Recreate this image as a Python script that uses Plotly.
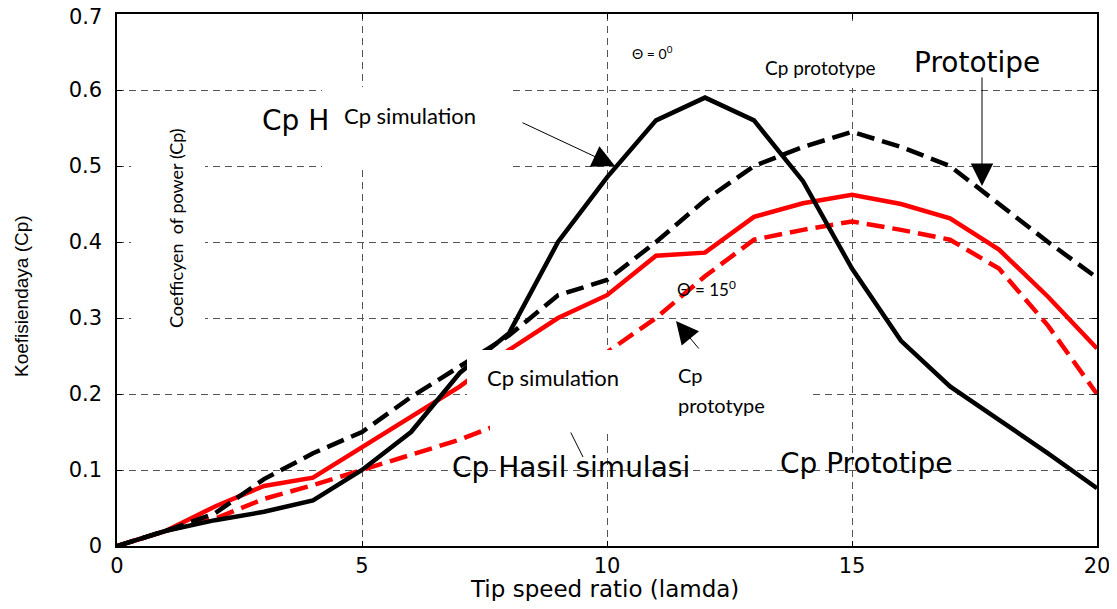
import plotly.graph_objects as go

tsr = list(range(0, 21))
cp_sim_0 = [0, 0.02, 0.034, 0.045, 0.06, 0.10, 0.15, 0.228, 0.28, 0.40, 0.485, 0.56, 0.59, 0.56, 0.48, 0.365, 0.27, 0.21, 0.166, 0.122, 0.076]
cp_proto_0 = [0, 0.02, 0.043, 0.088, 0.122, 0.15, 0.196, 0.236, 0.277, 0.33, 0.35, 0.40, 0.455, 0.50, 0.525, 0.545, 0.525, 0.50, 0.45, 0.40, 0.353]
cp_sim_15 = [0, 0.02, 0.052, 0.079, 0.09, 0.13, 0.17, 0.21, 0.258, 0.30, 0.33, 0.382, 0.386, 0.433, 0.451, 0.462, 0.45, 0.431, 0.39, 0.328, 0.26]
cp_proto_15 = [0, 0.02, 0.036, 0.062, 0.08, 0.10, 0.12, 0.14, 0.165, 0.20, 0.255, 0.30, 0.355, 0.403, 0.416, 0.427, 0.416, 0.403, 0.365, 0.29, 0.20]

x_ticks = [0, 5, 10, 15, 20]
y_ticks = [0, 0.1, 0.2, 0.3, 0.4, 0.5, 0.6, 0.7]
y_tick_text = ["0", "0.1", "0.2", "0.3", "0.4", "0.5", "0.6", "0.7"]

# pixel -> data helpers for placing annotations / overlay boxes
def X(px):
    return (px - 117) / 49.0

def Y(py):
    return (546 - py) / 760.0

fig = go.Figure()
fig.add_trace(go.Scatter(x=tsr, y=cp_proto_15, mode="lines",
                         line=dict(color="#ff0000", width=4.5, dash="18px,8px")))
fig.add_trace(go.Scatter(x=tsr, y=cp_sim_15, mode="lines",
                         line=dict(color="#ff0000", width=4.5)))
fig.add_trace(go.Scatter(x=tsr, y=cp_proto_0, mode="lines",
                         line=dict(color="#000000", width=4.5, dash="18px,8px")))
fig.add_trace(go.Scatter(x=tsr, y=cp_sim_0, mode="lines",
                         line=dict(color="#000000", width=4.5)))

big = dict(family="DejaVu Sans, Arial", size=28, color="black")
LATO = "Lato, Open Sans, Arial"

def white_box(px0, px1, py_top, py_bot):
    return dict(type="rect", xref="x", yref="y", x0=X(px0), x1=X(px1),
                y0=Y(py_bot), y1=Y(py_top), fillcolor="white",
                line=dict(width=0), layer="above")

fig.update_layout(shapes=[
    white_box(322, 513, 87, 168),
    white_box(131, 205, 100, 356),
    white_box(745, 903, 22, 88),
    white_box(467, 491, 350, 400),
    white_box(490, 810, 350, 433),
])

# fragments of older labels left visible beside the white boxes
fig.add_annotation(x=X(260), y=Y(120), text="Cp H", xanchor="left",
                   showarrow=False, font=big)
fig.add_annotation(x=X(912), y=Y(62), text="Prototipe", xanchor="left",
                   showarrow=False, font=big)

# visible labels
fig.add_annotation(x=X(342), y=Y(115), text="Cp simulation", xanchor="left",
                   showarrow=False, font=dict(family=LATO, size=22, color="black"))
fig.add_annotation(x=X(176), y=Y(228), text="Coefficyen  of power (Cp)", textangle=-90,
                   showarrow=False, font=dict(family=LATO, size=18, color="black"))
fig.add_annotation(x=X(763), y=Y(67), text="Cp prototype", xanchor="left",
                   showarrow=False, font=dict(family=LATO, size=19, color="black"))
fig.add_annotation(x=X(630), y=Y(52), text="\u0398 = 0<sup>0</sup>", xanchor="left",
                   showarrow=False, font=dict(family=LATO, size=14, color="black"))
fig.add_annotation(x=X(675), y=Y(288), text="\u0398 = 15<sup>0</sup>", xanchor="left",
                   showarrow=False, font=dict(family=LATO, size=17, color="black"))
fig.add_annotation(x=X(485), y=Y(377), text="Cp simulation", xanchor="left",
                   showarrow=False, font=dict(family=LATO, size=22, color="black"))
fig.add_annotation(x=X(676), y=Y(375), text="Cp", xanchor="left",
                   showarrow=False, font=dict(family=LATO, size=20, color="black"))
fig.add_annotation(x=X(676), y=Y(405), text="prototype", xanchor="left",
                   showarrow=False, font=dict(family=LATO, size=20, color="black"))
fig.add_annotation(x=X(450), y=Y(467), text="Cp Hasil simulasi", xanchor="left",
                   showarrow=False, font=big)
fig.add_annotation(x=X(778), y=Y(463), text="Cp Prototipe", xanchor="left",
                   showarrow=False, font=big)

# arrows
arrow = dict(text="", showarrow=True, arrowhead=2, arrowsize=4.5, arrowwidth=1,
             arrowcolor="black")
fig.add_annotation(x=X(615), y=Y(166), ax=-94, ay=-44, **arrow)
fig.add_annotation(x=X(982), y=Y(186), ax=0, ay=-110, **arrow)
fig.add_annotation(x=X(676), y=Y(321), ax=24, ay=29, **arrow)
fig.add_annotation(x=X(583), y=Y(457), ax=-13, ay=-26, text="", showarrow=True,
                   arrowhead=0, arrowwidth=1, arrowcolor="black")

# axis titles
fig.add_annotation(xref="paper", yref="paper", x=(604 - 117) / 980, y=(546 - 589) / 532,
                   xanchor="center", yanchor="middle",
                   text="Tip speed ratio (lamda)", showarrow=False,
                   font=dict(family="DejaVu Sans, Arial", size=23, color="black"))
fig.add_annotation(xref="paper", yref="paper", x=(21 - 117) / 980, y=(546 - 296) / 532,
                   xanchor="center", yanchor="middle",
                   text="Koefisiendaya (Cp)", showarrow=False, textangle=-90,
                   font=dict(family="Liberation Sans Narrow, Arial Narrow, Liberation Sans",
                             size=19, color="black"))

axis_font = dict(family="DejaVu Sans, Arial", size=21, color="black")

# the top y tick label would be clipped by the page edge; draw it as an annotation
# nudged slightly down so that it stays fully visible
fig.add_annotation(xref="paper", yref="y", x=0, y=y_ticks[-1], xanchor="right",
                   yanchor="middle", xshift=-13, yshift=-3, text=y_tick_text[-1],
                   showarrow=False, font=axis_font)

common = dict(showline=True, linecolor="black", linewidth=1.5, mirror="ticks",
              ticks="inside", ticklen=5, tickcolor="black",
              showgrid=True, gridcolor="#555555", gridwidth=1, griddash="7px,5px",
              zeroline=False, tickfont=axis_font, automargin=False,
              ticklabeloverflow="allow")
fig.update_xaxes(range=[0, 20], tickvals=x_ticks, ticktext=[str(v) for v in x_ticks], **common)
fig.update_yaxes(range=[0, 0.7], tickvals=y_ticks,
                 ticktext=y_tick_text[:-1] + [""],
                 ticklabelstandoff=9, **common)

# the page body has an 8px margin, so the figure is offset by 8px
fig.update_layout(width=1101, height=593, showlegend=False,
                  plot_bgcolor="white", paper_bgcolor="white",
                  margin=dict(l=109, r=12, t=6, b=55))

fig.write_html("out.html")
